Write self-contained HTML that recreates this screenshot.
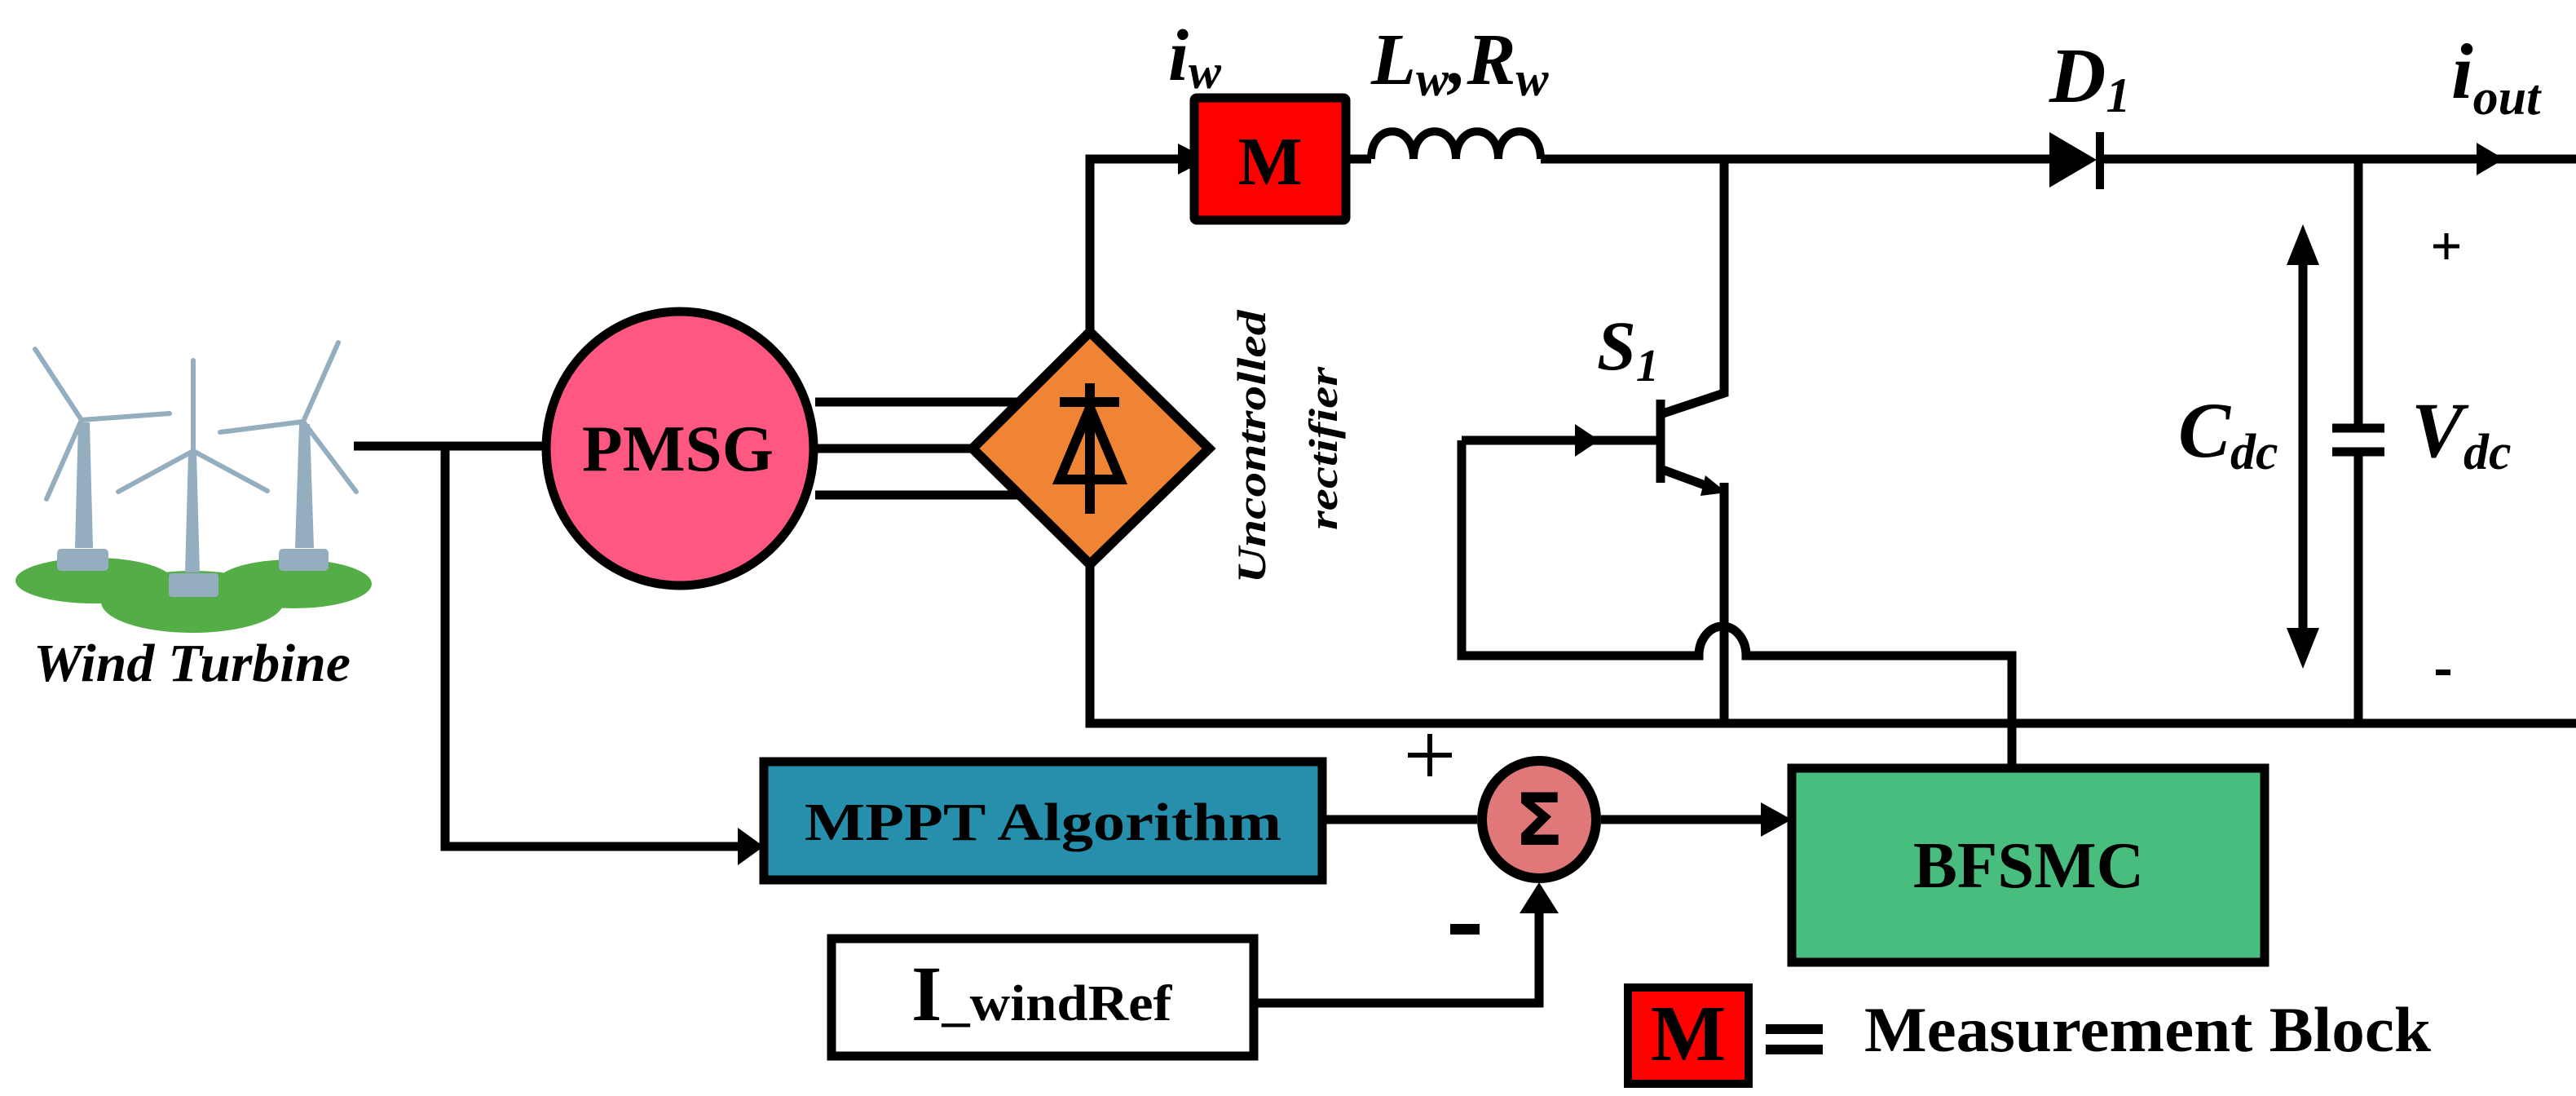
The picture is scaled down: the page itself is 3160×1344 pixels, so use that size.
<!DOCTYPE html>
<html><head><meta charset="utf-8"><style>
html,body{margin:0;padding:0;background:#fff;}
svg{display:block;}
text{font-family:"Liberation Serif",serif;font-weight:bold;}
</style></head><body>
<svg width="3160" height="1344" viewBox="0 0 3160 1344" xmlns="http://www.w3.org/2000/svg">
<rect width="3160" height="1344" fill="#fff"/>
<g fill="#55ad48">
<ellipse cx="115" cy="712" rx="96" ry="28"/>
<ellipse cx="236" cy="738" rx="112" ry="38"/>
<ellipse cx="360" cy="716" rx="96" ry="30"/>
</g>
<g fill="#94adbf" stroke="none">
<polygon points="92,672 114,672 110,518 96,518"/>
<rect x="70" y="673" width="63" height="27" rx="5"/>
<polygon points="227,702 245,702 241,556 231,556"/>
<rect x="207" y="703" width="61" height="29" rx="4"/>
<polygon points="362,672 385,672 380,520 367,520"/>
<rect x="342" y="673" width="61" height="27" rx="5"/>
</g>
<g stroke="#94adbf" stroke-linecap="round" fill="none">
<path d="M100,515 L43,428" stroke-width="6"/><path d="M100,515 L208,507" stroke-width="6"/><path d="M100,515 L57,612" stroke-width="6"/>
<path d="M237,553 L237,442" stroke-width="6"/><path d="M237,553 L145,603" stroke-width="6"/><path d="M237,553 L328,602" stroke-width="6"/>
<path d="M372,517 L415,420" stroke-width="6"/><path d="M372,517 L270,530" stroke-width="6"/><path d="M372,517 L437,603" stroke-width="6"/>
</g>
<text x="41" y="835" font-size="66" font-style="italic" textLength="389" lengthAdjust="spacingAndGlyphs">Wind Turbine</text>

<g stroke="#000" stroke-width="11" fill="none" stroke-linejoin="miter">
<path d="M434,547 L670,547"/>
<path d="M546,547 L546,1038 L915,1038"/>
<path d="M1000,493 L1250,493"/>
<path d="M1000,550 L1195,550"/>
<path d="M1000,607 L1250,607"/>
<path d="M1337,407 L1337,195 L1460,195"/>
<path d="M1337,692 L1337,887 L3160,887"/>
<path d="M1656,195 L1682,195"/>
<path d="M1890,195 L2514,195"/>
<path d="M2580,195 L3160,195"/>
<path d="M1682,195 C1682,150 1734,150 1734,195 C1734,150 1786,150 1786,195 C1786,150 1838,150 1838,195 C1838,150 1890,150 1890,195" stroke-width="10"/>
<path d="M2115,195 L2115,482 L2037,508"/>
<path d="M2037,575 L2105,600 M2115,592 L2115,887"/>
<path d="M2037,490 L2037,592"/>
<path d="M1793,540 L2037,540"/>
<path d="M1793,540 L1793,804 L2084,804 A29,36 0 0 1 2142,804 L2468,804 L2468,942"/>
<path d="M2893,195 L2893,525 M2893,554 L2893,887"/>
<path d="M2861,525 L2925,525 M2861,554 L2925,554"/>
<path d="M2825,320 L2825,775"/>
<path d="M1622,1005 L1812,1005"/>
<path d="M1964,1005 L2170,1005"/>
<path d="M1541,1230 L1888,1230 L1888,1110"/>
</g>
<g fill="#000">
<polygon points="1445,176 1482,195 1445,214"/>
<polygon points="1932,520 1962,540 1932,560"/>
<polygon points="2092,583 2118,604 2086,608"/>
<polygon points="3038,175 3072,195 3038,215"/>
<polygon points="2805,325 2825,275 2845,325"/>
<polygon points="2805,770 2825,820 2845,770"/>
<polygon points="905,1015 937,1038 905,1061"/>
<polygon points="2160,984 2198,1005 2160,1026"/>
<polygon points="1864,1120 1888,1082 1912,1120"/>
<polygon points="2514,162 2514,230 2572,196"/>
<rect x="2571" y="162" width="10" height="70"/>
</g>
<ellipse cx="834" cy="550" rx="164" ry="168" fill="#fd5782" stroke="#000" stroke-width="11"/>
<text x="714" y="577" font-size="80" textLength="235" lengthAdjust="spacingAndGlyphs">PMSG</text>
<polygon points="1337,407 1483,550 1337,692 1193,550" fill="#ee8434" stroke="#000" stroke-width="12" stroke-linejoin="miter"/>
<g stroke="#000" stroke-width="12" fill="none">
<path d="M1300,493 L1373,493 M1337,470 L1337,630"/>
<polygon points="1337,500 1300,588 1374,588"/>
</g>
<text transform="translate(1552,548) rotate(-90)" font-size="50" font-style="italic" text-anchor="middle" textLength="335" lengthAdjust="spacingAndGlyphs">Uncontrolled</text>
<text transform="translate(1640,550) rotate(-90)" font-size="50" font-style="italic" text-anchor="middle" textLength="200" lengthAdjust="spacingAndGlyphs">rectifier</text>
<rect x="1465" y="120" width="186" height="150" fill="#fe0000" stroke="#000" stroke-width="11" rx="3"/>
<text x="1558" y="226" font-size="84" text-anchor="middle">M</text>
<text x="1433" y="98" font-size="90" font-style="italic">i<tspan font-size="60" dy="10">w</tspan></text>
<text x="1682" y="103" font-size="90" font-style="italic">L<tspan font-size="60" dy="14">w</tspan><tspan dy="-14">,R</tspan><tspan font-size="60" dy="14">w</tspan></text>
<text x="2514" y="125" font-size="96" font-style="italic">D<tspan font-size="60" dy="12">1</tspan></text>
<text x="3007" y="120" font-size="96" font-style="italic">i<tspan font-size="62" dy="20">out</tspan></text>
<text x="1959" y="453" font-size="86" font-style="italic">S<tspan font-size="56" dy="14">1</tspan></text>
<text x="2672" y="560" font-size="96" font-style="italic">C<tspan font-size="62" dy="15">dc</tspan></text>
<text x="2958" y="560" font-size="96" font-style="italic">V<tspan font-size="62" dy="15">dc</tspan></text>
<path d="M2985,302 L3017,302 M3001,286 L3001,318" stroke="#000" stroke-width="5"/>
<rect x="2988" y="821" width="18" height="7" fill="#000"/>
<rect x="937" y="934" width="685" height="145" fill="#268fab" stroke="#000" stroke-width="11"/>
<text x="987" y="1030" font-size="66" textLength="585" lengthAdjust="spacingAndGlyphs">MPPT Algorithm</text>
<ellipse cx="1888" cy="1005" rx="70" ry="72" fill="#e07778" stroke="#000" stroke-width="12"/>
<text x="1888" y="1036" font-size="88" text-anchor="middle" style="font-family:'DejaVu Sans',sans-serif">Σ</text>
<path d="M1727,926 L1781,926 M1754,900 L1754,952" stroke="#000" stroke-width="6"/>
<rect x="1779" y="1133" width="36" height="13" fill="#000"/>
<rect x="2198" y="942" width="580" height="238" fill="#48bd7e" stroke="#000" stroke-width="11"/>
<text x="2347" y="1088" font-size="80" textLength="283" lengthAdjust="spacingAndGlyphs">BFSMC</text>
<rect x="1020" y="1151" width="518" height="144" fill="#fff" stroke="#000" stroke-width="11"/>
<text x="1118" y="1251" font-size="96">I<tspan font-size="62" textLength="282" lengthAdjust="spacingAndGlyphs">_windRef</tspan></text>
<rect x="1997" y="1211" width="148" height="118" fill="#fe0000" stroke="#000" stroke-width="10"/>
<text x="2071" y="1300" font-size="98" text-anchor="middle">M</text>
<rect x="2166" y="1256" width="70" height="12" fill="#000"/>
<rect x="2166" y="1281" width="70" height="12" fill="#000"/>
<text x="2287" y="1289" font-size="78" textLength="695" lengthAdjust="spacingAndGlyphs">Measurement Block</text>
</svg>
</body></html>
